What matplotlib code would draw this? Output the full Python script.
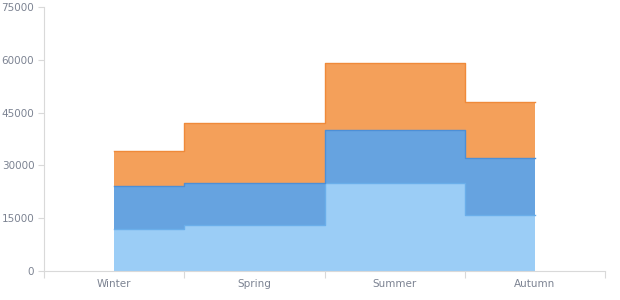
import numpy as np
import matplotlib.pyplot as plt

# Datos por estación
seasons = ["Winter", "Spring", "Summer", "Autumn"]
serie_1 = [12000, 13000, 25000, 16000]
serie_2 = [12000, 12000, 15000, 16000]
serie_3 = [10000, 17000, 19000, 16000]

fills = ["#9bcdf6", "#66a3e0", "#f4a05a"]
edges = ["#6aaeea", "#4d8fd6", "#ef8a3a"]

x = np.arange(len(seasons))
fig = plt.figure(figsize=(6.2, 3.0), dpi=100)
ax = fig.add_axes([0.071, 0.097, 0.905, 0.88])

base = np.zeros(len(seasons))
for vals, fc, ec in zip([serie_1, serie_2, serie_3], fills, edges):
    top = base + np.array(vals)
    ax.fill_between(x, base, top, step="mid", color=fc, lw=0)
    ax.step(x, top, where="mid", color=ec, lw=1.0)
    base = top

ax.set_xlim(-0.5, 3.5)
ax.set_ylim(0, 75000)

ax.set_yticks(np.arange(0, 75001, 15000))
ax.set_xticks(np.arange(-0.5, 3.6, 1))
ax.set_xticklabels([])
ax.set_xticks(x, minor=True)
ax.set_xticklabels(seasons, minor=True)
ax.tick_params(axis="both", which="both", labelsize=7.5, labelcolor="#7c8392")
ax.tick_params(axis="x", which="minor", length=0, pad=6)
ax.tick_params(axis="x", which="major", length=5, color="#d9d9d9")
ax.tick_params(axis="y", length=4, color="#d9d9d9", pad=3)

for s in ["top", "right"]:
    ax.spines[s].set_visible(False)
for s in ["left", "bottom"]:
    ax.spines[s].set_color("#d9d9d9")

fig.savefig("out.png", dpi=100)
